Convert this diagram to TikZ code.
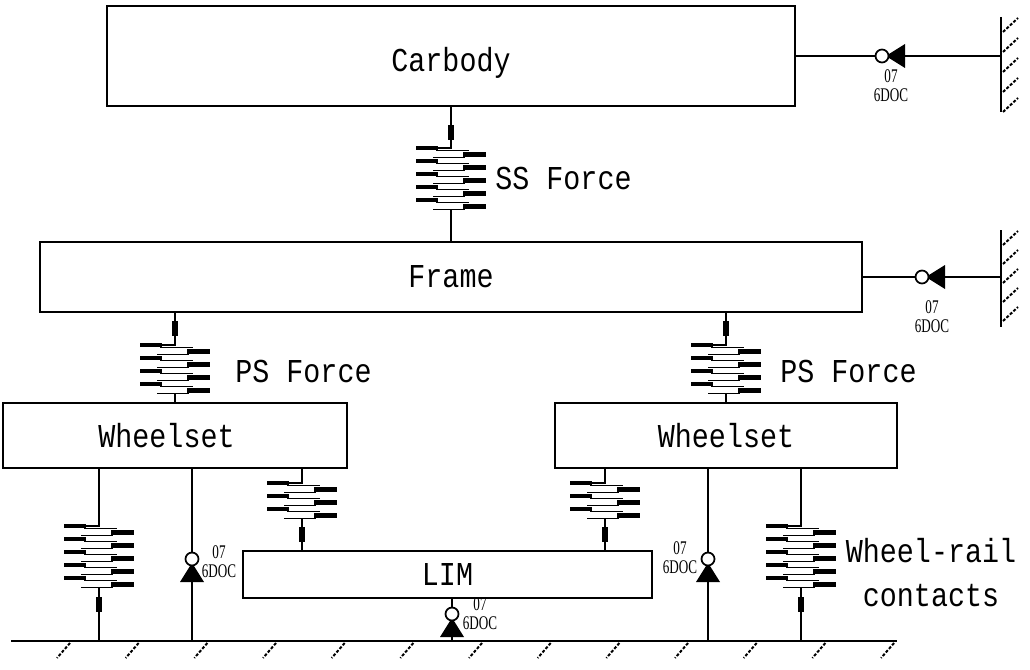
\documentclass[tikz,border=0pt]{standalone}
\usepackage{fontspec}
\setmonofont[FakeStretch=0.85]{Liberation Mono}
\newfontfamily\doffont[FakeStretch=0.68]{Liberation Serif}
\tikzset{
  body/.style={draw, line width=0.45mm, inner sep=0pt, font=\ttfamily\fontsize{19}{19}\selectfont},
  link/.style={line width=0.45mm},
  caption/.style={inner sep=0pt, font=\ttfamily\fontsize{19}{25}\selectfont, align=center},
  doflabel/.style={inner sep=0pt, font=\doffont\fontsize{11}{10.8}\selectfont, align=center},
  hatch/.style={line width=0.4mm, dash pattern=on 0.6mm off 0.35mm},
  pics/coil/.style={code={
    \fill[white] (-37,-2) rectangle (37,{#1*13});
    \draw[line width=0.35mm] (0,-2) |- (-13,0);
    \foreach \k in {1,...,#1} {
      \draw[line width=0.9mm] (-35,{(\k-1)*13}) -- (-13,{(\k-1)*13});
      \draw[line width=0.35mm] (-15,{(\k-1)*13+2.5}) -- (18,{(\k-1)*13+2.5});
      \draw[line width=0.9mm] (12,{(\k-1)*13+6.5}) -- (35,{(\k-1)*13+6.5});
      \draw[line width=0.35mm] (-18,{(\k-1)*13+9.5}) -- (14,{(\k-1)*13+9.5});
    }
    \draw[line width=0.35mm] (-18,{#1*13-3.5}) -| (0,{#1*13});
  }},
  pics/damper/.style={code={\fill (-3,0) rectangle (3,15);}},
  pics/jointv/.style={code={
    \fill (-12,0) -- (12,0) -- (2,-16) -- (-2,-16) -- cycle;
    \draw[line width=0.35mm, fill=white] (0,-23) circle[radius=1.3mm];
  }},
  pics/jointh/.style={code={
    \fill (0,-12) -- (0,12) -- (-16,2) -- (-16,-2) -- cycle;
    \draw[line width=0.35mm, fill=white] (-23,0) circle[radius=1.3mm];
  }}
}
\begin{document}
\begin{tikzpicture}[x=0.02cm, y=-0.02cm]
\useasboundingbox (0,0) rectangle (1030,669);

\node[body, minimum width=13.76cm, minimum height=2cm, text height=6.2mm, text depth=0pt] (carbody) at (451,56) {Carbody};
\node[body, minimum width=16.44cm, minimum height=1.4cm] (frame) at (451,277) {Frame};
\node[body, minimum width=6.88cm, minimum height=1.3cm] (lws) at (175,435.5) {Wheelset\hspace*{3.4mm}};
\node[body, minimum width=6.84cm, minimum height=1.3cm] (rws) at (726,435.5) {Wheelset};
\node[body, minimum width=8.18cm, minimum height=0.94cm] (lim) at (447.5,574.5) {LIM};

\coordinate (wallc) at (1001,56);
\coordinate (wallf) at (1001,277);
\coordinate (g0) at (11,641);
\coordinate (g1) at (897,641);
\coordinate (wrl) at (99,641);
\coordinate (jl) at (192,641);
\coordinate (jlim) at (452,641);
\coordinate (jr) at (708,641);
\coordinate (wrr) at (801,641);
\coordinate (liml) at (302,551);
\coordinate (limr) at (605,551);

\draw[link] (g0) -- (g1);
\foreach \k in {0,...,12}
  \draw[hatch] ({70+68.67*\k},643) -- ({57+68.67*\k},658);
\draw[link] (1001,17) -- (1001,112);
\foreach \y in {18,38,58,78,98}
  \draw[hatch] (1003,\y+14) -- (1018,\y);
\draw[link] (1001,230) -- (1001,327);
\foreach \y in {231,250,269,288,307}
  \draw[hatch] (1003,\y+14) -- (1018,\y);

\draw[link] (carbody.south) -- (frame.north);
\draw[link] (carbody.east) -- (wallc);
\draw[link] (frame.east) -- (wallf);
\draw[link] (frame.south -| lws.north) -- (lws.north);
\draw[link] (frame.south -| rws.north) -- (rws.north);
\draw[link] (lws.south -| wrl) -- (wrl);
\draw[link] (lws.south -| jl) -- (jl);
\draw[link] (lws.south -| liml) -- (liml);
\draw[link] (rws.south -| limr) -- (limr);
\draw[link] (rws.south -| jr) -- (jr);
\draw[link] (rws.south -| wrr) -- (wrr);
\draw[link] (lim.south -| jlim) -- (jlim);

\pic at (451,125) {damper};
\pic at (451,148) {coil=5};
\pic at (175,321) {damper};
\pic at (175,345) {coil=4};
\pic at (726,321) {damper};
\pic at (726,345) {coil=4};
\pic at (302,483) {coil=3};
\pic at (302,527) {damper};
\pic at (605,483) {coil=3};
\pic at (605,527) {damper};
\pic at (99,526) {coil=5};
\pic at (99,597) {damper};
\pic at (801,526) {coil=5};
\pic at (801,597) {damper};

\pic at (905,56) {jointh};
\pic at (945,277) {jointh};
\pic at (192,582) {jointv};
\pic at (452,637) {jointv};
\pic at (708,582) {jointv};

\node[doflabel] (dofc) at (891,86) {07\\6DOC};
\node[doflabel] (doff) at (932,317) {07\\6DOC};
\node[doflabel] (dofl) at (219,562) {07\\6DOC};
\node[doflabel] (doflim) at (480,614) {07\\6DOC};
\node[doflabel] (dofr) at (680,558) {07\\6DOC};

\node[caption, anchor=west] (ssf) at (495,178) {SS Force};
\node[caption, anchor=west] (psl) at (235,371) {PS Force};
\node[caption, anchor=west] (psr) at (780,371) {PS Force};
\node[caption] (wrc) at (931,573) {Wheel-rail\\contacts};
\end{tikzpicture}
\end{document}
